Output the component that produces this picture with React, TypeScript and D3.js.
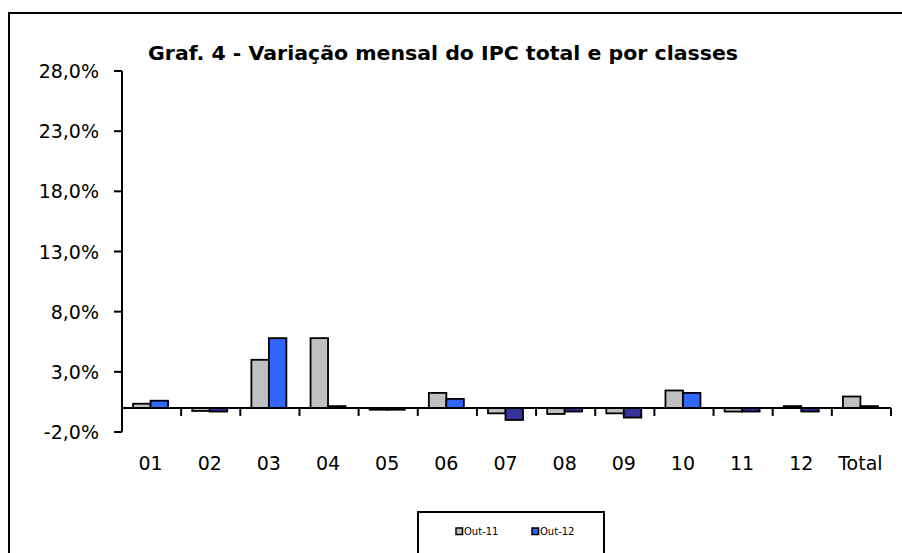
import React from 'react';
import * as d3 from 'd3';

const categories = ['01', '02', '03', '04', '05', '06', '07', '08', '09', '10', '11', '12', 'Total'];
const out11 = [0.35, -0.25, 4.0, 5.8, -0.15, 1.25, -0.45, -0.5, -0.45, 1.45, -0.3, 0.15, 0.95];
const out12 = [0.6, -0.3, 5.8, 0.15, -0.15, 0.75, -1.0, -0.3, -0.8, 1.25, -0.3, -0.3, 0.15];
const yTicks = [-2, 3, 8, 13, 18, 23, 28];
const seriesNames = ['Out-11', 'Out-12'];

const W = 902;
const H = 553;
const FONT = '"DejaVu Sans", Verdana, sans-serif';

export default function App() {
  const x = d3.scaleBand<string>().domain(categories).range([122, 891]);
  const y = d3.scaleLinear().domain([-2, 28]).range([432, 71]);
  const y0 = y(0);
  const barW = 17.5;
  const fmt = (v: number) => v.toFixed(1).replace('.', ',') + '%';

  const bar = (v: number, i: number, s: number) => {
    const c = (x(categories[i]) as number) + x.bandwidth() / 2 - 1;
    const bx = s === 0 ? c - barW : c;
    const top = Math.min(y(v), y0);
    const h = Math.abs(y(v) - y0);
    const fill = s === 0 ? '#C0C0C0' : v < 0 ? '#333399' : '#3366FF';
    return (
      <rect key={`${s}-${i}`} x={bx} y={top} width={barW} height={h}
        fill={fill} stroke="#000" strokeWidth={1.8} />
    );
  };

  const boundaries = categories.map((c) => x(c) as number).concat([891]);

  return (
    <div style={{ position: 'absolute', left: 0, top: 0 }}>
      <svg width={W} height={H} style={{ display: 'block' }}>
        <rect x={0} y={0} width={W} height={H} fill="#fff" />
        <rect x={9} y={13} width={W + 20} height={H + 20} fill="none" stroke="#000" strokeWidth={2} />
        <text x={443} y={60} textAnchor="middle" fontFamily={FONT} fontWeight="bold" fontSize={20}
          textLength={590} lengthAdjust="spacingAndGlyphs">
          Graf. 4 - Variação mensal do IPC total e por classes
        </text>

        {/* y axis */}
        <line x1={122} x2={122} y1={y(28)} y2={y(-2)} stroke="#000" strokeWidth={2} />
        {yTicks.map((t) => (
          <g key={t}>
            <line x1={114} x2={122} y1={y(t)} y2={y(t)} stroke="#000" strokeWidth={2} />
            <text x={99} y={y(t) + 7} textAnchor="end" fontFamily={FONT} fontSize={19}>{fmt(t)}</text>
          </g>
        ))}

        {/* bars */}
        {out11.map((v, i) => bar(v, i, 0))}
        {out12.map((v, i) => bar(v, i, 1))}

        {/* x axis */}
        <line x1={122} x2={891} y1={y0} y2={y0} stroke="#000" strokeWidth={2} />
        {boundaries.map((bx, i) => (
          <line key={i} x1={bx} x2={bx} y1={y0} y2={y0 + 8} stroke="#000" strokeWidth={2} />
        ))}
        {categories.map((c) => (
          <text key={c} x={(x(c) as number) + x.bandwidth() / 2 - 1} y={470} textAnchor="middle"
            fontFamily={FONT} fontSize={19}>{c}</text>
        ))}

        {/* legend */}
        <rect x={418} y={512} width={186} height={60} fill="#fff" stroke="#000" strokeWidth={2} />
        {seriesNames.map((n, i) => (
          <g key={n}>
            <rect x={456 + i * 76} y={528} width={6.5} height={6.5}
              fill={i === 0 ? '#C0C0C0' : '#3366FF'} stroke="#000" strokeWidth={1.5} />
            <text x={464 + i * 76} y={535} fontFamily={FONT} fontSize={10}>{n}</text>
          </g>
        ))}
      </svg>
    </div>
  );
}
